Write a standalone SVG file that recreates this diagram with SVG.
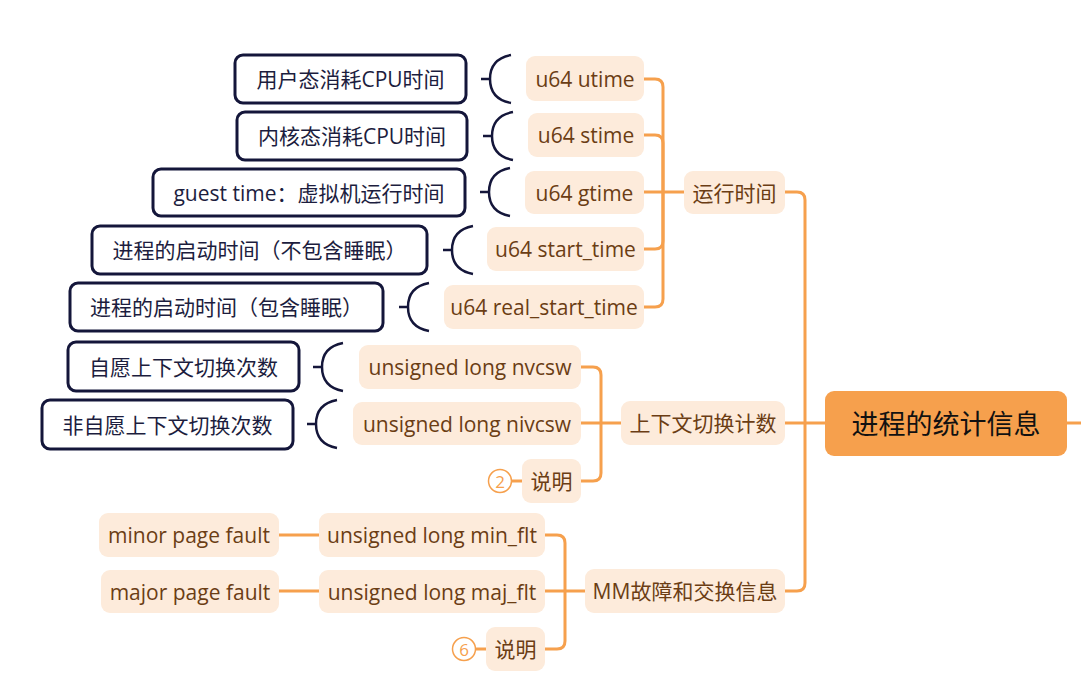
<svg xmlns="http://www.w3.org/2000/svg" width="1081" height="699" viewBox="0 0 1081 699">
<style>
text{font-family:"Open Sans","Noto Sans CJK SC",sans-serif;font-size:21px;text-anchor:middle;dominant-baseline:central}
.ob{fill:#fdebdb}
.ot{fill:#6b3d14}
.db{fill:#ffffff;stroke:#14163a;stroke-width:3}
.dt{fill:#1c1d3e}
.br{fill:none;stroke:#14163a;stroke-width:2.5}
.cn{fill:none;stroke:#f6a04d;stroke-width:3;stroke-linejoin:round}
.cc{fill:#ffffff;stroke:#f6a04d;stroke-width:1.5}
text.ct{fill:#f6a04d;font-size:17px}
</style>
<rect width="1081" height="699" fill="#ffffff"/>
<g id="connectors">
<path class="cn" d="M1067,423 H1081"/>
<path class="cn" d="M825,423 H805 V200 Q805,192 797,192 H785"/>
<path class="cn" d="M805,423 H785"/>
<path class="cn" d="M805,423 V583 Q805,591 797,591 H785"/>
<path class="cn" d="M684,192 H644"/>
<path class="cn" d="M663,192 V87 Q663,79 655,79 H644"/>
<path class="cn" d="M663,192 V143 Q663,135 655,135 H644"/>
<path class="cn" d="M663,192 V241 Q663,249 655,249 H644"/>
<path class="cn" d="M663,192 V299 Q663,307 655,307 H644"/>
<path class="cn" d="M621,423 H581"/>
<path class="cn" d="M601,423 V375 Q601,367 593,367 H581"/>
<path class="cn" d="M601,423 V473 Q601,481 593,481 H581"/>
<path class="cn" d="M585,591 H545"/>
<path class="cn" d="M565,591 V543 Q565,535 557,535 H545"/>
<path class="cn" d="M565,591 V641 Q565,649 557,649 H545"/>
<path class="cn" d="M319,535 H279"/>
<path class="cn" d="M319,591 H279"/>
<path class="cn" d="M511.5,481 H522" stroke-width="2.5"/>
<path class="cn" d="M475.5,649 H486" stroke-width="2.5"/>
<path class="br" d="M481,79 H490 M511,55 C495,58 490,68 490,79 C490,90 495,100 511,103"/>
<path class="br" d="M483,136 H492 M513,112 C497,115 492,125 492,136 C492,147 497,157 513,160"/>
<path class="br" d="M480,192 H489 M510,168 C494,171 489,181 489,192 C489,203 494,213 510,216"/>
<path class="br" d="M443,250 H452 M473,226 C457,229 452,239 452,250 C452,261 457,271 473,274"/>
<path class="br" d="M399,307 H408 M429,283 C413,286 408,296 408,307 C408,318 413,328 429,331"/>
<path class="br" d="M313,367 H322 M343,343 C327,346 322,356 322,367 C322,378 327,388 343,391"/>
<path class="br" d="M307,424 H316 M337,400 C321,403 316,413 316,424 C316,435 321,445 337,448"/>
</g>
<g id="root">
<rect x="825" y="391" width="242" height="65" rx="9" fill="#f6a04d"/>
<text x="946" y="423.5" style="font-size:27px;fill:#111111">进程的统计信息</text>
</g>
<g id="n-runtime"><rect class="ob" x="684" y="171" width="101" height="43" rx="9"/><text class="ot" x="734.5" y="192.5">运行时间</text></g>
<g id="n-ctx"><rect class="ob" x="621" y="401" width="164" height="44" rx="9"/><text class="ot" x="703" y="423">上下文切换计数</text></g>
<g id="n-mm"><rect class="ob" x="585" y="569" width="200" height="44" rx="9"/><text class="ot" x="685" y="591">MM故障和交换信息</text></g>
<g id="n-utime"><rect class="ob" x="526" y="56" width="118" height="45" rx="9"/><text class="ot" x="585" y="78.5">u64 utime</text></g>
<g id="n-stime"><rect class="ob" x="528" y="113" width="116" height="44" rx="9"/><text class="ot" x="586" y="135">u64 stime</text></g>
<g id="n-gtime"><rect class="ob" x="525" y="171" width="119" height="43" rx="9"/><text class="ot" x="584.5" y="192.5">u64 gtime</text></g>
<g id="n-start"><rect class="ob" x="487" y="227" width="157" height="44" rx="9"/><text class="ot" x="565.5" y="249">u64 start_time</text></g>
<g id="n-realstart"><rect class="ob" x="444" y="285" width="200" height="44" rx="9"/><text class="ot" x="544" y="307">u64 real_start_time</text></g>
<g id="n-nvcsw"><rect class="ob" x="359" y="345" width="222" height="44" rx="9"/><text class="ot" x="470" y="367">unsigned long nvcsw</text></g>
<g id="n-nivcsw"><rect class="ob" x="353" y="402" width="228" height="43" rx="9"/><text class="ot" x="467" y="423.5">unsigned long nivcsw</text></g>
<g id="n-note1"><rect class="ob" x="522" y="459" width="59" height="44" rx="9"/><text class="ot" x="551.5" y="481">说明</text><circle class="cc" cx="500" cy="481" r="11.5"/><text class="ct" x="500" y="481.5">2</text></g>
<g id="n-minflt"><rect class="ob" x="319" y="513" width="226" height="44" rx="9"/><text class="ot" x="432" y="535">unsigned long min_flt</text></g>
<g id="n-majflt"><rect class="ob" x="319" y="570" width="226" height="43" rx="9"/><text class="ot" x="432" y="591.5">unsigned long maj_flt</text></g>
<g id="n-note2"><rect class="ob" x="486" y="627" width="59" height="44" rx="9"/><text class="ot" x="515.5" y="649">说明</text><circle class="cc" cx="464" cy="649" r="11.5"/><text class="ct" x="464" y="649.5">6</text></g>
<g id="n-minor"><rect class="ob" x="99" y="513" width="180" height="44" rx="9"/><text class="ot" x="189" y="535">minor page fault</text></g>
<g id="n-major"><rect class="ob" x="101" y="570" width="178" height="43" rx="9"/><text class="ot" x="190" y="591.5">major page fault</text></g>
<g id="d-utime"><rect class="db" x="235" y="55" width="231" height="48" rx="8"/><text class="dt" x="350.5" y="79">用户态消耗CPU时间</text></g>
<g id="d-stime"><rect class="db" x="237" y="112" width="230" height="48" rx="8"/><text class="dt" x="352" y="136">内核态消耗CPU时间</text></g>
<g id="d-gtime"><rect class="db" x="153" y="169" width="312" height="47" rx="8"/><text class="dt" x="309" y="192.5">guest time：虚拟机运行时间</text></g>
<g id="d-start"><rect class="db" x="92" y="226" width="335" height="48" rx="8"/><text class="dt" x="259.5" y="250">进程的启动时间（不包含睡眠）</text></g>
<g id="d-realstart"><rect class="db" x="70" y="283" width="313" height="48" rx="8"/><text class="dt" x="226.5" y="307">进程的启动时间（包含睡眠）</text></g>
<g id="d-nvcsw"><rect class="db" x="68" y="342" width="231" height="49" rx="8"/><text class="dt" x="183.5" y="366.5">自愿上下文切换次数</text></g>
<g id="d-nivcsw"><rect class="db" x="42" y="400" width="251" height="49" rx="8"/><text class="dt" x="167.5" y="424.5">非自愿上下文切换次数</text></g>
</svg>
